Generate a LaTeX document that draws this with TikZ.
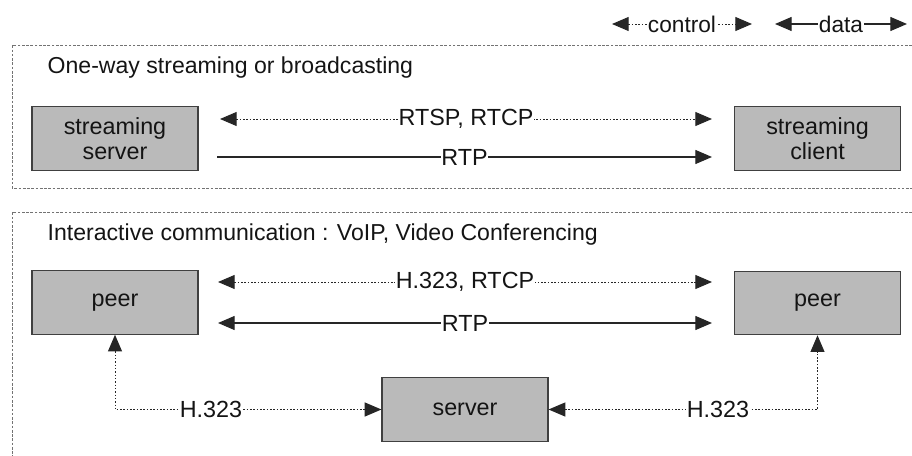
\documentclass[tikz,border=0pt]{standalone}
\usepackage{fontspec}
\setmainfont{Liberation Sans}
\usetikzlibrary{arrows.meta}
\begin{document}
\begin{tikzpicture}[x=0.75pt,y=-0.75pt,
  every node/.style={font=\fontsize{17.5}{19}\selectfont, text=black!92},
  hostbox/.style={draw=black!75, fill=black!27, line width=0.9pt,
    minimum width=124.5pt, minimum height=47.5pt, align=center, inner sep=0pt},
  frame/.style={draw=black!55, line width=0.6pt, dash pattern=on 2pt off 1.2pt},
  ctrl/.style={draw=black!85, line width=0.7pt, dash pattern=on 1.2pt off 1.3pt},
  dataln/.style={draw=black!85, line width=0.9pt},
  headR/.style={-{Triangle[length=12.5pt,width=10.5pt]}},
  headLR/.style={{Triangle[length=12.5pt,width=10.5pt]}-{Triangle[length=12.5pt,width=10.5pt]}},
  lab/.style={fill=white, inner sep=0.5pt}
]
\useasboundingbox (0,0) rectangle (912,456);

% legend
\coordinate (cl) at (612,24); \coordinate (cr) at (752,24);
\coordinate (dl) at (775,24); \coordinate (dr) at (907,24);
\draw[ctrl, headLR] (cl) -- node[lab, font=\fontsize{17}{19}\selectfont] {control} (cr);
\draw[dataln, headLR] (dl) -- node[lab, font=\fontsize{17}{19}\selectfont] {data} (dr);

% section frames (open on the right / bottom)
\draw[frame] (912,45) -- (12,45) -- (12,188) -- (912,188);
\draw[frame] (912,212) -- (12,212) -- (12,456);

% one-way streaming
\node[anchor=base west, font=\fontsize{17.3}{19}\selectfont] (t1) at (43,74) {One-way streaming or broadcasting};
\node[hostbox] (ss) at (115,138.5) {streaming\\server};
\node[hostbox] (sc) at (817.5,138.5) {streaming\\client};
\coordinate (a1l) at (220,119); \coordinate (a1r) at (712,119);
\coordinate (a2l) at (217,157); \coordinate (a2r) at (712,157);
\draw[ctrl, headLR] (a1l) -- node[lab] {RTSP, RTCP} (a1r);
\draw[dataln, headR] (a2l) -- node[lab] {RTP} (a2r);

% interactive communication
\node[anchor=base west, font=\fontsize{17.3}{19}\selectfont] (t2) at (43,240) {Interactive communication : VoIP, Video Conferencing};
\node[hostbox] (p1) at (115,302.5) {peer};
\node[hostbox] (p2) at (817.5,303) {peer};
\node[hostbox] (sv) at (465,409.5) {server};
\coordinate (b1l) at (218,282); \coordinate (b1r) at (712,282);
\coordinate (b2l) at (218,323); \coordinate (b2r) at (712,323);
\draw[ctrl, headLR] (b1l) -- node[lab] {H.323, RTCP} (b1r);
\draw[dataln, headLR] (b2l) -- node[lab] {RTP} (b2r);

% signalling through the server
\draw[ctrl, headLR] (p1.south) |- node[lab, pos=0.68] {H.323} (sv.west);
\draw[ctrl, headLR] (sv.east) -| node[lab, pos=0.315] {H.323} (p2.south);
\end{tikzpicture}
\end{document}
